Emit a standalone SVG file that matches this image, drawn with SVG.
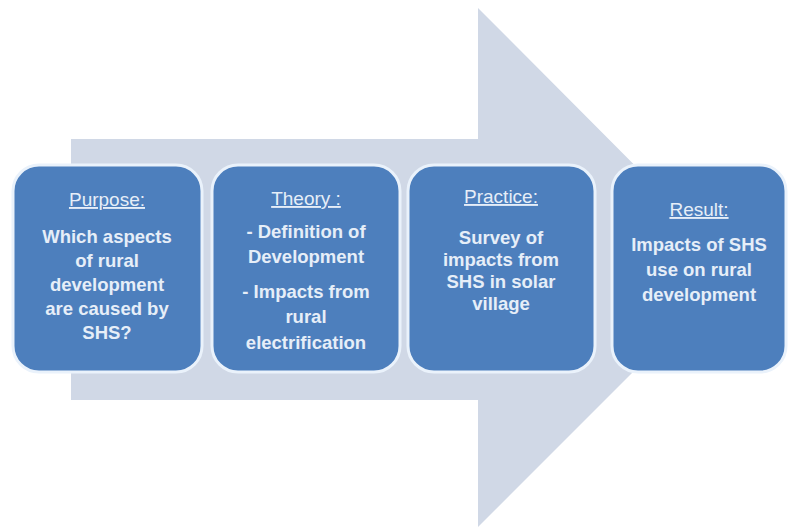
<svg xmlns="http://www.w3.org/2000/svg" width="788" height="529" viewBox="0 0 788 529">
  <style>
    .box { fill: #4d7fbd; stroke: #eaf2fb; stroke-width: 3; }
    .title { font-family: "Liberation Sans", Arial, sans-serif; font-size: 19px; fill: #e6eef8; text-anchor: middle; text-decoration: underline; }
    .body { font-family: "Liberation Sans", Arial, sans-serif; font-size: 18.5px; font-weight: bold; fill: #e6eef8; text-anchor: middle; }
  </style>
  <rect width="788" height="529" fill="#ffffff"/>

  <!-- large background block arrow -->
  <g id="flow-arrow">
    <polygon points="71,139 478,139 478,8 737,268 478,527 478,400 71,400" fill="#d0d8e6"/>
  </g>

  <g id="purpose">
    <rect class="box" x="13" y="165" width="189" height="207" rx="26"/>
    <text class="title" x="107" y="206">Purpose:</text>
    <text class="body" x="107" y="243">Which aspects</text>
    <text class="body" x="107" y="267">of rural</text>
    <text class="body" x="107" y="291">development</text>
    <text class="body" x="107" y="315">are caused by</text>
    <text class="body" x="107" y="339">SHS?</text>
  </g>

  <g id="theory">
    <rect class="box" x="212" y="165" width="188" height="207" rx="26"/>
    <text class="title" x="306" y="205">Theory :</text>
    <text class="body" x="306" y="238">- Definition of</text>
    <text class="body" x="306" y="263">Development</text>
    <text class="body" x="306" y="298">- Impacts from</text>
    <text class="body" x="306" y="323">rural</text>
    <text class="body" x="306" y="349">electrification</text>
  </g>

  <g id="practice">
    <rect class="box" x="408" y="165" width="187" height="207" rx="26"/>
    <text class="title" x="501" y="203">Practice:</text>
    <text class="body" x="501" y="244">Survey of</text>
    <text class="body" x="501" y="266">impacts from</text>
    <text class="body" x="501" y="288">SHS in solar</text>
    <text class="body" x="501" y="310">village</text>
  </g>

  <g id="result">
    <rect class="box" x="612" y="165" width="174" height="207" rx="26"/>
    <text class="title" x="699" y="216">Result:</text>
    <text class="body" x="699" y="251">Impacts of SHS</text>
    <text class="body" x="699" y="276">use on rural</text>
    <text class="body" x="699" y="301">development</text>
  </g>

  <g id="connectors"></g>
</svg>
